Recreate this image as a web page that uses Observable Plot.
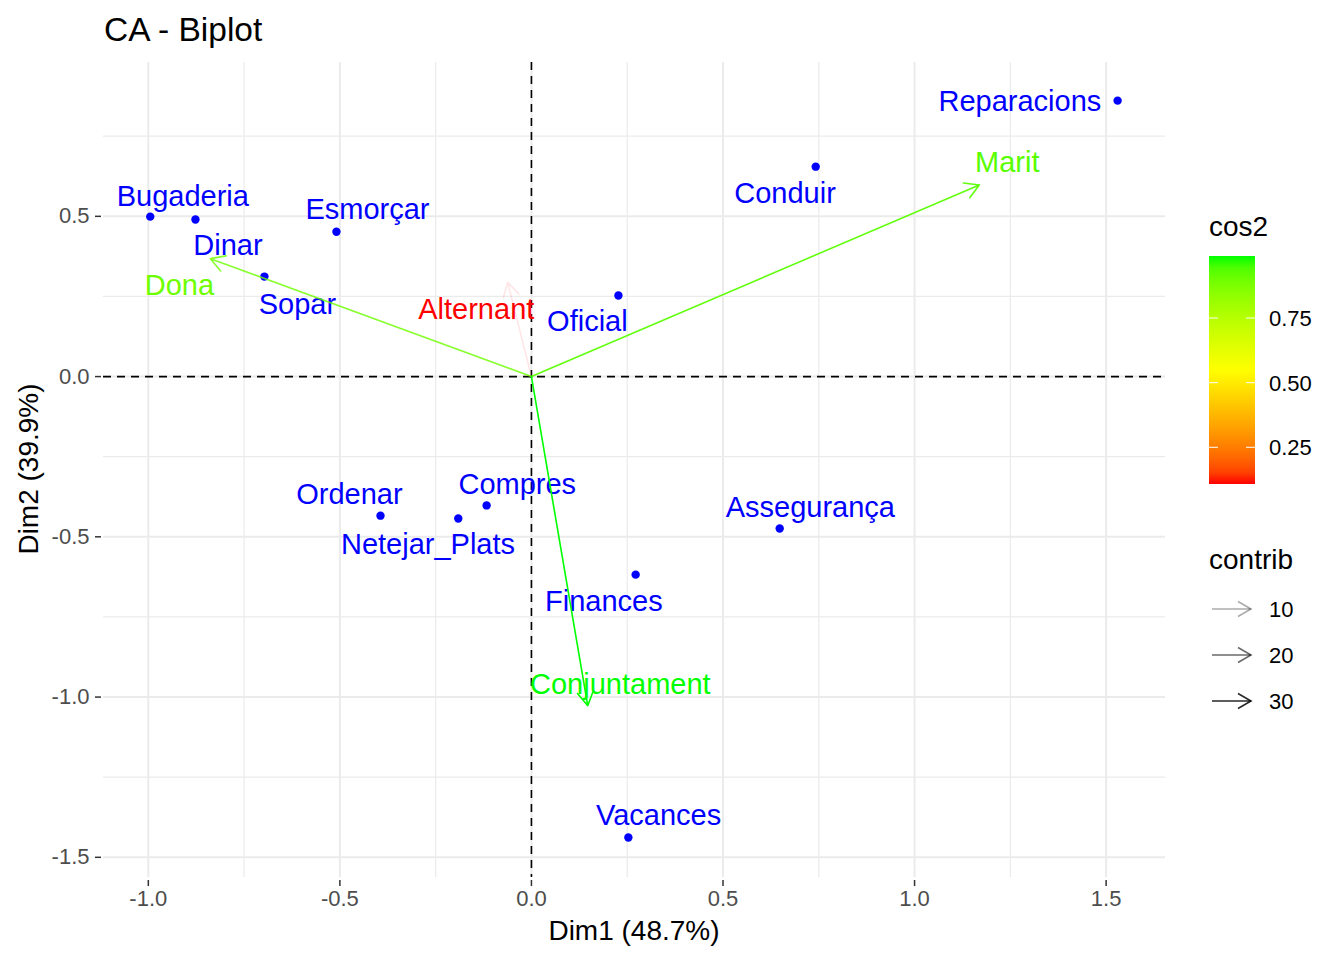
<!DOCTYPE html>
<html><head><meta charset="utf-8">
<script src="https://cdn.jsdelivr.net/npm/d3@7"></script>
<script src="https://cdn.jsdelivr.net/npm/@observablehq/plot@0.6"></script>
<style>
body{margin:0;background:#fff;}
#wrap{position:relative;width:1344px;height:960px;font-family:Arial,"Liberation Sans",sans-serif;}
#wrap svg{position:absolute;left:0;top:0;}
</style></head><body><div id="wrap"></div>
<script>
// Row points (activities)
const rowNames = ["Reparacions","Conduir","Bugaderia","Dinar","Esmorçar","Sopar","Oficial","Ordenar","Netejar_Plats","Compres","Assegurança","Finances","Vacances"];
const rowDim1 = [1.530, 0.742, -0.995, -0.877, -0.509, -0.697, 0.227, -0.394, -0.191, -0.117, 0.648, 0.272, 0.253];
const rowDim2 = [0.861, 0.655, 0.499, 0.490, 0.452, 0.312, 0.253, -0.434, -0.443, -0.402, -0.474, -0.618, -1.438];
// repelled label positions (data units)
const rowLabDim1 = [1.275, 0.662, -0.910, -0.792, -0.428, -0.611, 0.146, -0.475, -0.270, -0.037, 0.728, 0.189, 0.332];
const rowLabDim2 = [0.858, 0.571, 0.562, 0.409, 0.521, 0.225, 0.172, -0.368, -0.524, -0.337, -0.409, -0.702, -1.370];

// Column arrows (who does it)
const colNames = ["Marit","Dona","Alternant","Conjuntament"];
const colDim1 = [1.169, -0.838, -0.062, 0.147];
const colDim2 = [0.598, 0.368, 0.294, -1.027];
const colCos2 = [0.93, 0.90, 0.108, 0.99];
const colContrib = [34, 29, 1, 36];
const colLabDim1 = [1.242, -0.919, -0.144, 0.232];
const colLabDim2 = [0.668, 0.284, 0.209, -0.961];

const xTicks = [-1, -0.5, 0, 0.5, 1, 1.5];
const yTicks = [-1.5, -1, -0.5, 0, 0.5];
const xMinor = [-0.75, -0.25, 0.25, 0.75, 1.25];
const yMinor = [-1.25, -0.75, -0.25, 0.25, 0.75];
const cos2Ticks = [0.25, 0.50, 0.75];
const contribTicks = [10, 20, 30];

const rows = rowNames.map((name, i) => ({name, x: rowDim1[i], y: rowDim2[i], lx: rowLabDim1[i], ly: rowLabDim2[i]}));
const cols = colNames.map((name, i) => ({name, x: colDim1[i], y: colDim2[i], cos2: colCos2[i], contrib: colContrib[i], lx: colLabDim1[i], ly: colLabDim2[i]}));

const [cLo, cHi] = d3.extent(colCos2);
const [kLo, kHi] = d3.extent(colContrib);
const fmt = d => d.toFixed(1);
const FONT = 'Arial, "Liberation Sans", sans-serif';

const chart = Plot.plot({
  width: 1344, height: 960,
  marginLeft: 103, marginRight: 179, marginTop: 62, marginBottom: 83,
  x: {domain: [-1.117, 1.655]},
  y: {domain: [-1.563, 0.98]},
  color: {type: "linear", domain: [cLo, (cLo + cHi) / 2, cHi], range: ["#FF0000", "#FFFF00", "#00FF00"], interpolate: "lab"},
  opacity: {type: "linear", domain: [kLo, kHi], range: [0.1, 1]},
  style: {fontFamily: FONT, background: "white", overflow: "visible"},
  marks: [
    Plot.gridX(xMinor, {stroke: "#EBEBEB", strokeOpacity: 1, strokeWidth: 1.2}),
    Plot.gridY(yMinor, {stroke: "#EBEBEB", strokeOpacity: 1, strokeWidth: 1.2}),
    Plot.gridX(xTicks, {stroke: "#EBEBEB", strokeOpacity: 1, strokeWidth: 2}),
    Plot.gridY(yTicks, {stroke: "#EBEBEB", strokeOpacity: 1, strokeWidth: 2}),
    Plot.axisX(xTicks, {tickSize: 6, tickPadding: 4, dy: 3, fontSize: 22, tickFormat: fmt, label: null, color: "#4D4D4D", stroke: "#333333", strokeWidth: 1.5}),
    Plot.axisY(yTicks, {tickSize: 6, tickPadding: 6, dx: -2, fontSize: 22, tickFormat: fmt, label: null, color: "#4D4D4D", stroke: "#333333", strokeWidth: 1.5}),
    Plot.ruleX([0], {stroke: "black", strokeWidth: 1.6, strokeDasharray: "8,6"}),
    Plot.ruleY([0], {stroke: "black", strokeWidth: 1.6, strokeDasharray: "8,6"}),
    Plot.dot(rows, {x: "x", y: "y", r: 4.2, fill: "#0000FF", stroke: null}),
    Plot.text(rows, {x: "lx", y: "ly", text: "name", fill: "#0000FF", fontSize: 29, textAnchor: "middle"}),
    Plot.arrow(cols, {x1: d => 0, y1: d => 0, x2: "x", y2: "y", stroke: "cos2", strokeOpacity: "contrib", strokeWidth: 1.6, headLength: 15, headAngle: 60}),
    Plot.text(cols, {x: "lx", y: "ly", text: "name", fill: "cos2", fontSize: 29, textAnchor: "middle"})
  ]
});

const wrap = document.getElementById("wrap");
wrap.appendChild(chart);

// Overlay: title, axis titles and legends
const colorScale = chart.scale("color");
const opScale = chart.scale("opacity");
const svg = d3.select(wrap).append("svg").attr("width", 1344).attr("height", 960)
  .style("font-family", FONT);

svg.append("text").attr("x", 104).attr("y", 41).attr("font-size", 33.5).attr("fill", "black").text("CA - Biplot");
svg.append("text").attr("x", 634).attr("y", 940).attr("font-size", 28).attr("text-anchor", "middle").attr("fill", "black").text("Dim1 (48.7%)");
svg.append("text").attr("transform", "translate(38,469) rotate(-90)").attr("font-size", 28).attr("text-anchor", "middle").attr("fill", "black").text("Dim2 (39.9%)");

// cos2 colour bar
svg.append("text").attr("x", 1209).attr("y", 236).attr("font-size", 28).attr("fill", "black").text("cos2");
const barX = 1209, barW = 46, barTop = 256, barBot = 484;
const defs = svg.append("defs");
const grad = defs.append("linearGradient").attr("id", "cg").attr("x1", 0).attr("y1", 1).attr("x2", 0).attr("y2", 0);
d3.range(0, 1.0001, 0.05).forEach(t => {
  grad.append("stop").attr("offset", t).attr("stop-color", colorScale.apply(cLo + t * (cHi - cLo)));
});
svg.append("rect").attr("x", barX).attr("y", barTop).attr("width", barW).attr("height", barBot - barTop).attr("fill", "url(#cg)");
const vy = v => barBot - (v - cLo) / (cHi - cLo) * (barBot - barTop);
cos2Ticks.forEach(v => {
  const y = vy(v);
  svg.append("line").attr("x1", barX).attr("x2", barX + 9).attr("y1", y).attr("y2", y).attr("stroke", "white").attr("stroke-width", 1);
  svg.append("line").attr("x1", barX + barW - 9).attr("x2", barX + barW).attr("y1", y).attr("y2", y).attr("stroke", "white").attr("stroke-width", 1);
  svg.append("text").attr("x", 1269).attr("y", y).attr("dy", "0.36em").attr("font-size", 22).attr("fill", "black").text(v.toFixed(2));
});

// contrib legend
svg.append("text").attr("x", 1209).attr("y", 569).attr("font-size", 28).attr("fill", "black").text("contrib");
contribTicks.forEach((v, i) => {
  const y = 609 + i * 46;
  const g = svg.append("g").attr("stroke", "black").attr("stroke-opacity", opScale.apply(v)).attr("stroke-width", 1.6).attr("fill", "none");
  g.append("line").attr("x1", 1212).attr("x2", 1251).attr("y1", y).attr("y2", y);
  g.append("path").attr("d", `M${1251 - 13},${y - 7.5}L1251,${y}L${1251 - 13},${y + 7.5}`);
  svg.append("text").attr("x", 1269).attr("y", y).attr("dy", "0.36em").attr("font-size", 22).attr("fill", "black").text(v);
});
</script></body></html>
